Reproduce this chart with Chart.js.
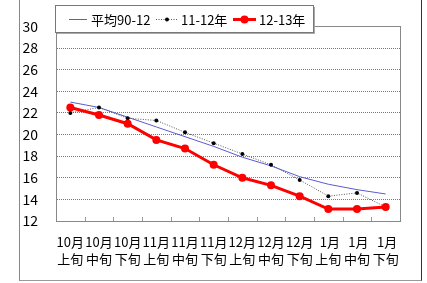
<!DOCTYPE html>
<html>
<head>
<meta charset="utf-8">
<script src="https://cdn.jsdelivr.net/npm/chart.js@4"></script>
<style>
  body { margin: 0; background: #fff; }
  #wrap { position: relative; width: 427px; height: 283px; }
  #frame { position: absolute; left: 19px; top: -2px; width: 401px; height: 282px;
           border-left: 1px solid #888; border-bottom: 1px solid #999; border-right: 1px solid #333;
           pointer-events: none; }
</style>
</head>
<body>
<div id="wrap">
  <canvas id="chart" width="427" height="283"></canvas>
  <div id="frame"></div>
</div>
<script>
// Data
var months = ['10月', '10月', '10月', '11月', '11月', '11月', '12月', '12月', '12月', ' 1月', ' 1月', ' 1月'];
var periods = ['上旬', '中旬', '下旬', '上旬', '中旬', '下旬', '上旬', '中旬', '下旬', '上旬', '中旬', '下旬'];
var avgValues = [23.0, 22.5, 21.6, 20.7, 19.8, 18.9, 17.9, 17.1, 16.1, 15.4, 14.9, 14.5];
var prevValues = [22.0, 22.5, 21.5, 21.3, 20.2, 19.2, 18.2, 17.2, 15.8, 14.3, 14.6, 13.3];
var currValues = [22.5, 21.8, 21.0, 19.5, 18.7, 17.2, 16.0, 15.3, 14.3, 13.1, 13.1, 13.3];
var seriesNames = ['平均90-12', '11-12年', '12-13年'];

var fontFamily = '"Noto Sans CJK JP", "Noto Sans", sans-serif';

var labels = months.map(function(m, i) { return [m, periods[i]]; });

// plot frame + inside tick marks
var framePlugin = {
  id: 'framePlugin',
  beforeDatasetsDraw: function(chart) {
    var a = chart.chartArea, ctx = chart.ctx, x = chart.scales.x;
    ctx.save();
    ctx.strokeStyle = '#888';
    ctx.lineWidth = 1;
    ctx.strokeRect(Math.round(a.left) + 0.5, Math.round(a.top) + 0.5,
                   Math.round(a.right - a.left), Math.round(a.bottom - a.top));
    ctx.strokeStyle = '#999';
    for (var i = 1; i < labels.length; i++) {
      var px = Math.round((x.getPixelForValue(i - 1) + x.getPixelForValue(i)) / 2) + 0.5;
      ctx.beginPath();
      ctx.moveTo(px, a.bottom - 4);
      ctx.lineTo(px, a.bottom);
      ctx.stroke();
    }
    ctx.restore();
  }
};

// legend box drawn over the plot, like the original
var legendPlugin = {
  id: 'legendPlugin',
  afterDraw: function(chart) {
    var ctx = chart.ctx;
    var ds = chart.data.datasets;
    var bx = 55, by = 5, bw = 258, bh = 27;
    ctx.save();
    ctx.fillStyle = '#aaa';
    ctx.fillRect(bx + 2, by + 2, bw, bh);
    ctx.fillStyle = '#fff';
    ctx.fillRect(bx, by, bw, bh);
    ctx.strokeStyle = '#777';
    ctx.lineWidth = 1;
    ctx.strokeRect(bx + 0.5, by + 0.5, bw, bh);

    var items = [
      { x0: 69, x1: 87, tx: 91 },
      { x0: 156, x1: 178, tx: 181 },
      { x0: 233, x1: 256, tx: 259 }
    ];
    var cy = 19.5;
    ctx.font = '13px ' + fontFamily;
    ctx.textBaseline = 'middle';
    items.forEach(function(it, i) {
      var d = ds[i];
      ctx.strokeStyle = d.borderColor;
      ctx.lineWidth = d.borderWidth;
      ctx.setLineDash(d.borderDash || []);
      ctx.beginPath();
      ctx.moveTo(it.x0, cy);
      ctx.lineTo(it.x1, cy);
      ctx.stroke();
      ctx.setLineDash([]);
      if (d.pointRadius > 0) {
        ctx.fillStyle = d.pointBackgroundColor;
        ctx.beginPath();
        ctx.arc((it.x0 + it.x1) / 2, cy, d.pointRadius, 0, Math.PI * 2);
        ctx.fill();
      }
      ctx.fillStyle = '#000';
      ctx.fillText(d.label, it.tx, cy + 1);
    });
    ctx.restore();
  }
};

var ctx = document.getElementById('chart').getContext('2d');
var chart = new Chart(ctx, {
  type: 'line',
  data: {
    labels: labels,
    datasets: [{
      label: seriesNames[0],
      data: avgValues,
      borderColor: '#5a5ad2',
      borderWidth: 1,
      pointRadius: 0,
      tension: 0,
      order: 2
    }, {
      label: seriesNames[1],
      data: prevValues,
      borderColor: '#555',
      borderWidth: 1,
      borderDash: [1, 1.5],
      pointRadius: 2,
      pointBackgroundColor: '#000',
      pointBorderColor: '#000',
      pointBorderWidth: 0,
      tension: 0,
      order: 1
    }, {
      label: seriesNames[2],
      data: currValues,
      borderColor: '#ff0000',
      borderWidth: 3,
      pointRadius: 4,
      pointBackgroundColor: '#ff0000',
      pointBorderColor: '#ff0000',
      pointBorderWidth: 0,
      tension: 0,
      order: 0
    }]
  },
  options: {
    responsive: false,
    animation: false,
    layout: {
      padding: { left: 0, right: 27, top: 19, bottom: 0 }
    },
    plugins: {
      legend: { display: false },
      tooltip: { enabled: false }
    },
    scales: {
      x: {
        offset: true,
        afterFit: function(scale) { scale.height = 62; },
        grid: { display: false, drawTicks: false, offset: true },
        border: { display: true, color: '#444', width: 1 },
        ticks: {
          autoSkip: false,
          maxRotation: 0,
          minRotation: 0,
          padding: 12,
          color: '#000',
          font: { family: fontFamily, size: 13, lineHeight: 1.35 }
        }
      },
      y: {
        min: 12,
        max: 30,
        afterFit: function(scale) { scale.width = 56; },
        grid: {
          color: '#7a7a7a',
          drawTicks: false,
          lineWidth: 1
        },
        border: { display: true, color: '#444', width: 1, dash: [1, 1] },
        ticks: {
          stepSize: 2,
          padding: 18,
          color: '#000',
          font: { family: fontFamily, size: 14 }
        }
      }
    }
  },
  plugins: [framePlugin, legendPlugin]
});
</script>
</body>
</html>
